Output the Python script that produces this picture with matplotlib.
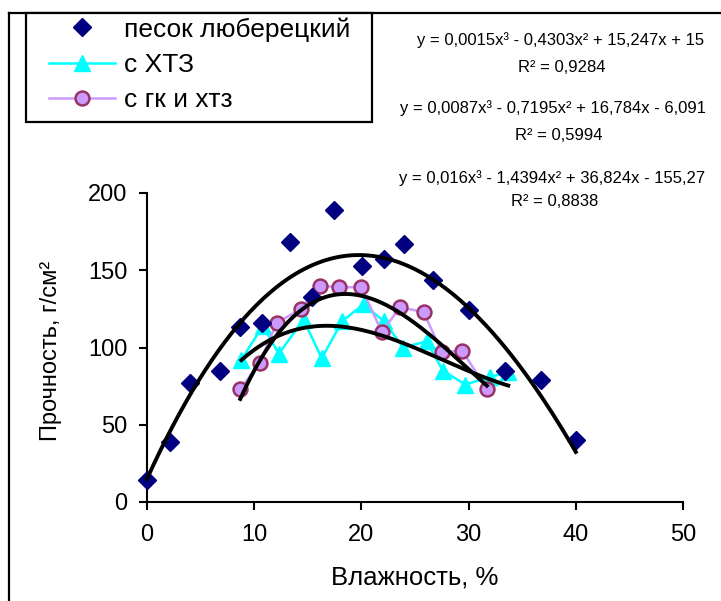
import matplotlib
matplotlib.use('Agg')
import matplotlib.pyplot as plt
import numpy as np
from matplotlib.lines import Line2D
from matplotlib.patches import Rectangle

plt.rcParams['font.family'] = ['Liberation Sans', 'DejaVu Sans']

# песок люберецкий
x_sand = [0, 2.1, 4.0, 6.8, 8.7, 10.7, 13.3, 15.4, 17.4, 20.1, 22.1, 24.0, 26.7, 30.0, 33.4, 36.8, 40.0]
y_sand = [14, 39, 77, 85, 113, 116, 168, 133, 189, 153, 157, 167, 144, 124, 85, 79, 40]

# с ХТЗ
x_htz = [8.8, 10.8, 12.3, 14.6, 16.3, 18.2, 20.2, 22.1, 23.9, 26.1, 27.6, 29.7, 32.0, 33.7]
y_htz = [92, 114, 96, 118, 93, 117, 128, 117, 100, 104, 85, 76, 81, 84]

# с гк и хтз
x_gk = [8.7, 10.5, 12.1, 14.4, 16.1, 17.9, 20.0, 21.9, 23.6, 25.8, 27.5, 29.4, 31.7]
y_gk = [73, 90, 116, 125, 140, 139, 139, 110, 126, 123, 97, 98, 73]

# cubic trend coefficients (x^3, x^2, x, 1)
coef_sand = [0.0015, -0.4303, 15.247, 15]
coef_htz = [0.0087, -0.7195, 16.784, -6.091]
coef_gk = [0.016, -1.4394, 36.824, -155.27]

eq_labels = [
    ('y = 0,0015x³ - 0,4303x² + 15,247x + 15', 'R² = 0,9284'),
    ('y = 0,0087x³ - 0,7195x² + 16,784x - 6,091', 'R² = 0,5994'),
    ('y = 0,016x³ - 1,4394x² + 36,824x - 155,27', 'R² = 0,8838'),
]

W, H = 721, 601
fig = plt.figure(figsize=(W / 100, H / 100), dpi=100)

def fx(px):
    return px / W

def fy(py):
    return 1 - py / H

ax = fig.add_axes([fx(147), fy(502), fx(683) - fx(147), fy(193) - fy(502)])

navy = '#000080'
cyan = '#00FFFF'
lilac = '#CC99FF'
plum = '#993366'

ax.plot(x_htz, y_htz, color=cyan, lw=1.8, marker='^', ms=12, mfc=cyan, mec=cyan,
        clip_on=False, zorder=3, label='с ХТЗ')
ax.plot(x_gk, y_gk, color=lilac, lw=1.8, marker='o', ms=10, mfc=lilac, mec=plum, mew=1.8,
        clip_on=False, zorder=3, label='с гк и хтз')
ax.plot(x_sand, y_sand, ls='none', marker='D', ms=9, color=navy,
        clip_on=False, zorder=4, label='песок люберецкий')

for xs, c in ((x_sand, coef_sand), (x_htz, coef_htz), (x_gk, coef_gk)):
    xx = np.linspace(min(xs), max(xs), 200)
    ax.plot(xx, np.polyval(c, xx), color='black', lw=2.8, zorder=5, clip_on=False)

ax.set_xlim(0, 50)
ax.set_ylim(0, 200)
ax.set_xticks(np.arange(0, 51, 10))
ax.set_yticks(np.arange(0, 201, 50))
for s in ('top', 'right'):
    ax.spines[s].set_visible(False)
for s in ('left', 'bottom'):
    ax.spines[s].set_linewidth(1.5)
ax.tick_params(axis='both', direction='out', length=6, width=1.5, labelsize=17)
ax.tick_params(axis='y', pad=8)
ax.tick_params(axis='x', pad=10)
ax.set_xlabel('Влажность, %', fontsize=18.5)
ax.set_ylabel('Прочность, г/см²', fontsize=17)
ax.xaxis.set_label_coords(0.5, -0.205)
ax.yaxis.set_label_coords(-0.158, 0.49)

# trend equations
eq_y = [(40, 68), (108, 136), (178, 202)]
eq_x = [(561, 562), (553, 559), (552, 555)]
for (eq, r2), (ye, yr), (xe, xr) in zip(eq_labels, eq_y, eq_x):
    fig.text(fx(xe), fy(ye), eq, ha='center', va='center', fontsize=12)
    fig.text(fx(xr), fy(yr), r2, ha='center', va='center', fontsize=12)

# outer frame (left and top edges)
fig.add_artist(Line2D([fx(8.5), fx(8.5)], [fy(12.7), 0], transform=fig.transFigure,
                      color='black', lw=1.6))
fig.add_artist(Line2D([fx(8.5), 1], [fy(12.7), fy(12.7)], transform=fig.transFigure,
                      color='black', lw=1.6))

# legend
handles = [
    Line2D([], [], ls='none', marker='D', ms=9, color=navy),
    Line2D([], [], color=cyan, lw=1.8, marker='^', ms=12, mfc=cyan, mec=cyan),
    Line2D([], [], color=lilac, lw=1.8, marker='o', ms=10, mfc=lilac, mec=plum, mew=1.8),
]
labels = ['песок люберецкий', 'с ХТЗ', 'с гк и хтз']
fig.add_artist(Rectangle((fx(26), fy(122)), fx(372) - fx(26), fy(13) - fy(122),
                         transform=fig.transFigure, facecolor='white', edgecolor='black',
                         lw=1.6, zorder=6))
leg = fig.legend(handles, labels, loc='upper left', bbox_to_anchor=(fx(49), fy(17)),
                 frameon=False, borderpad=0, borderaxespad=0, handlelength=2.5,
                 handletextpad=0.35, labelspacing=0.43, fontsize=19)
leg.set_zorder(7)

fig.savefig('out.png', dpi=100)
